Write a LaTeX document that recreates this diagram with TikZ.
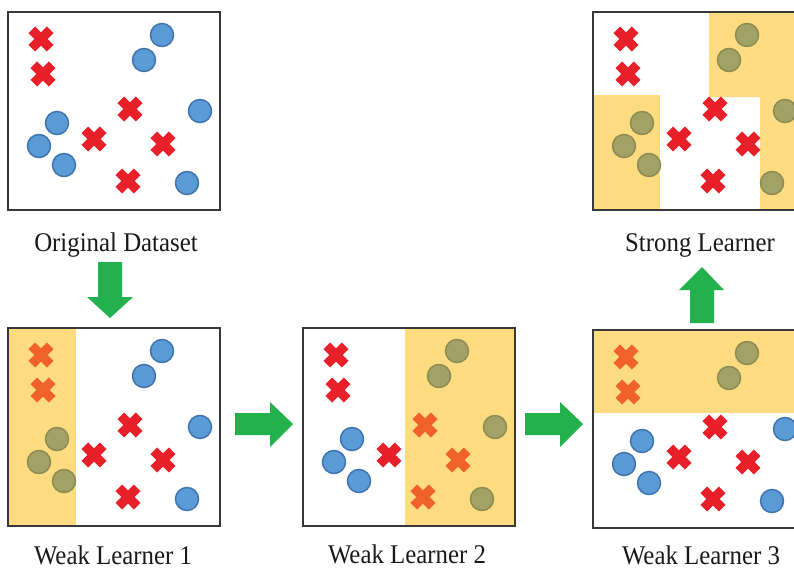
\documentclass[tikz,border=0pt]{standalone}
\usepackage{fontspec}
\setmainfont{Liberation Serif}
\definecolor{xred}{HTML}{E8202A}
\definecolor{xorange}{HTML}{F0622A}
\definecolor{dotblue}{HTML}{5B9BD5}
\definecolor{dotblueedge}{HTML}{3F74AE}
\definecolor{dotolive}{HTML}{A2A266}
\definecolor{dotoliveedge}{HTML}{8C8C52}
\definecolor{band}{HTML}{FDDB80}
\definecolor{arrowgreen}{HTML}{22B14C}
\definecolor{framegray}{HTML}{383838}
\tikzset{
  cross/.pic={\draw[line width=9.5pt] (-9.2,-9.2) -- (9.2,9.2) (-9.2,9.2) -- (9.2,-9.2);},
  bluedot/.style={fill=dotblue, draw=dotblueedge, line width=1.5pt},
  olivedot/.style={fill=dotolive, draw=dotoliveedge, line width=1.5pt},
  panelframe/.style={draw=framegray, line width=2pt},
  bandfill/.style={fill=band},
  bigarrow/.style={fill=arrowgreen},
  caption/.style={anchor=base, inner sep=0pt, text=black!90,
    font=\fontsize{27}{32}\selectfont\addfontfeature{FakeStretch=0.92}},
}
% one set of 13 samples inside a 212 x 198 frame
% #1: upper crosses, #2: central crosses, #3: upper dots, #4: right dots, #5: left dots
\newcommand\dataset[5]{%
  \pic[color=#1] at (33,27) {cross};
  \pic[color=#1] at (35,62) {cross};
  \pic[color=#2] at (122,97) {cross};
  \pic[color=#2] at (155,132) {cross};
  \pic[color=#2] at (120,169) {cross};
  \pic[color=xred] at (86,127) {cross};
  \path[#3] (154,23) circle[radius=11.5] (136,48) circle[radius=11.5];
  \path[#4] (192,99) circle[radius=11.5] (179,171) circle[radius=11.5];
  \path[#5] (49,111) circle[radius=11.5] (31,134) circle[radius=11.5] (56,153) circle[radius=11.5];
}
\begin{document}
\begin{tikzpicture}[x=1pt,y=-1pt]
\useasboundingbox (0,0) rectangle (794,570);
\clip (0,0) rectangle (794,570);

% original data
\begin{scope}[shift={(8,12)}]
  \dataset{xred}{xred}{bluedot}{bluedot}{bluedot}
  \draw[panelframe] (0,0) rectangle (212,198);
\end{scope}

% first weak learner: left strip
\begin{scope}[shift={(8,328)}]
  \fill[bandfill] (0,0) rectangle (68,198);
  \dataset{xorange}{xred}{bluedot}{bluedot}{olivedot}
  \draw[panelframe] (0,0) rectangle (212,198);
\end{scope}

% second weak learner: right part
\begin{scope}[shift={(303,328)}]
  \fill[bandfill] (102,0) rectangle (212,198);
  \dataset{xred}{xorange}{olivedot}{olivedot}{bluedot}
  \draw[panelframe] (0,0) rectangle (212,198);
\end{scope}

% third weak learner: top strip
\begin{scope}[shift={(593,330)}]
  \fill[bandfill] (0,0) rectangle (212,83);
  \dataset{xorange}{xred}{olivedot}{bluedot}{bluedot}
  \draw[panelframe] (0,0) rectangle (212,198);
\end{scope}

% combined model
\begin{scope}[shift={(593,12)}]
  \fill[bandfill] (0,83) rectangle (67,198);
  \fill[bandfill] (116,0) -- (212,0) -- (212,198) -- (167,198) -- (167,85) -- (116,85) -- cycle;
  \dataset{xred}{xred}{olivedot}{olivedot}{olivedot}
  \draw[panelframe] (0,0) rectangle (212,198);
\end{scope}

% block arrows
\fill[bigarrow] (98,262) -- (122,262) -- (122,297) -- (133,297) -- (110,318) -- (87,297) -- (98,297) -- cycle;
\fill[bigarrow] (235,413) -- (270,413) -- (270,402) -- (293,424) -- (270,447) -- (270,435) -- (235,435) -- cycle;
\fill[bigarrow] (525,413) -- (560,413) -- (560,402) -- (583,424) -- (560,447) -- (560,435) -- (525,435) -- cycle;
\fill[bigarrow] (690,323) -- (714,323) -- (714,290) -- (724,290) -- (702,267) -- (679,290) -- (690,290) -- cycle;

% captions
\node[caption] (capOrig) at (116,251) {Original Dataset};
\node[caption] (capWeakA) at (113,564) {Weak Learner 1};
\node[caption] (capWeakB) at (407,563) {Weak Learner 2};
\node[caption] (capWeakC) at (701,564) {Weak Learner 3};
\node[caption] (capStrong) at (700,251) {Strong Learner};
\end{tikzpicture}
\end{document}
